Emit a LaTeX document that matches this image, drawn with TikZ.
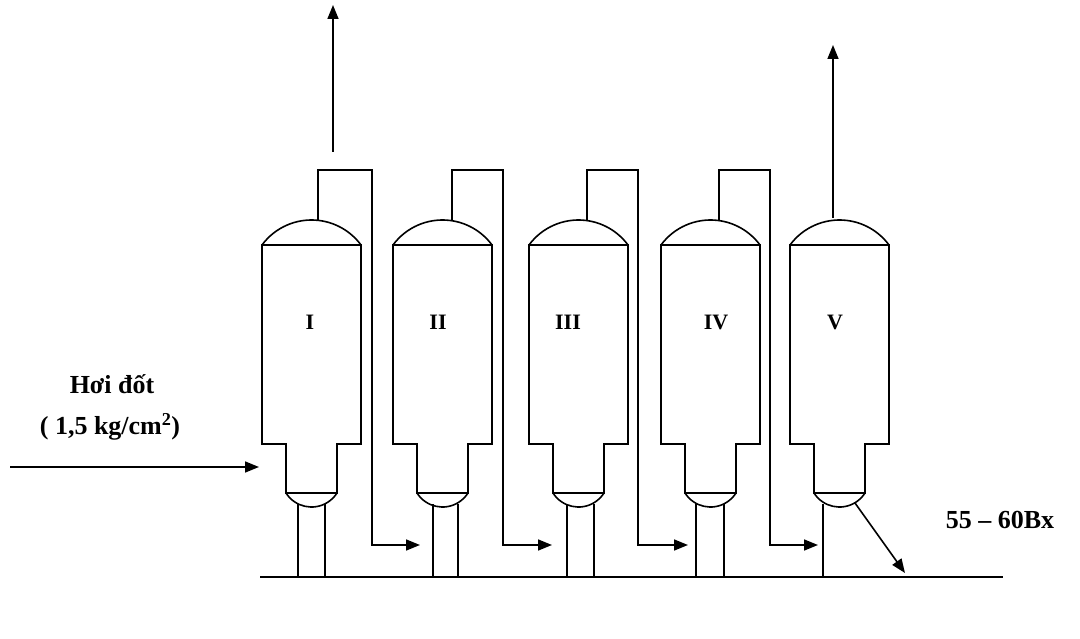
\documentclass[tikz,border=0pt]{standalone}
\usepackage{fontspec}
\setmainfont{Liberation Serif}
\usetikzlibrary{arrows.meta}
\begin{document}
\begin{tikzpicture}[x=1pt,y=-1pt,line width=1.6pt,
  arr/.style={-{Triangle[length=14pt,width=11pt]}},
  lbl/.style={font=\bfseries\fontsize{22}{24}\selectfont},
  big/.style={font=\bfseries\fontsize{26}{30}\selectfont}]
\useasboundingbox (0,0) rectangle (1080,639);
% evaporators
\foreach \L/\lab/\lx in {262/I/310,393/II/438,529/III/568,661/IV/716,790/V/835}{
  \draw (\L+24,493) -- (\L+24,444) -- (\L,444) -- (\L,245) -- (\L+99,245) -- (\L+99,444) -- (\L+75,444) -- (\L+75,493) -- cycle;
  \draw (\L,245) arc[start angle=216.4,end angle=323.6,radius=61.5];
  \draw (\L+24,493) arc[start angle=147.6,end angle=32.4,radius=30.2];
  \node[lbl] (n\lab) at (\lx,322) {\lab};
}
% legs
\foreach \x in {298,325,433,458,567,594,696,724,823}{
  \draw (\x,504) -- (\x,577);
}
% pipes between effects
\foreach \a/\b/\e in {318/372/420,452/503/552,587/638/688,719/770/818}{
  \draw[arr] (\a,220) -- (\a,170) -- (\b,170) -- (\b,545) -- (\e,545);
}
% vapour outlets
\coordinate (t1) at (333,152); \coordinate (t1e) at (333,5);
\draw[arr] (t1) -- (t1e);
\coordinate (t5) at (833,218); \coordinate (t5e) at (833,45);
\draw[arr] (t5) -- (t5e);
% base line
\coordinate (b0) at (260,577); \coordinate (b1) at (1003,577);
\draw (b0) -- (b1);
% steam inlet
\node[big] (h1) at (112,384) {Hơi đốt};
\node[big] (h2) at (110,427) {( 1,5 kg/cm\textsuperscript{2})};
\coordinate (s0) at (10,467); \coordinate (s1) at (259,467);
\draw[arr] (s0) -- (s1);
% product
\coordinate (p0) at (855,503); \coordinate (p1) at (905,573);
\draw[arr] (p0) -- (p1);
\node[big] (bx) at (1000,520) {55 -- 60Bx};
\end{tikzpicture}
\end{document}
